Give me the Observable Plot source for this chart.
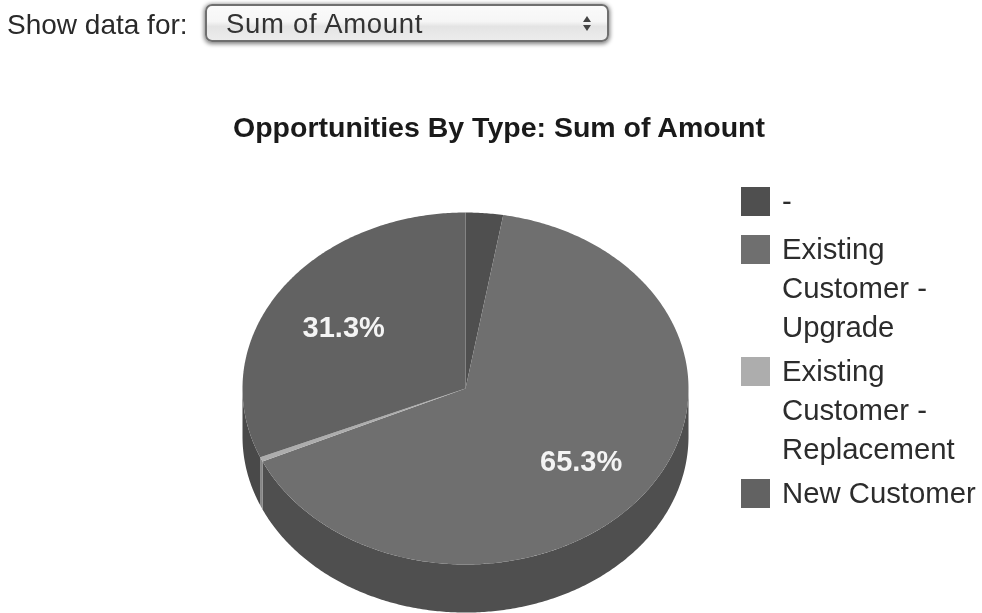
<!DOCTYPE html>
<html><head><meta charset="utf-8">
<script src="https://cdn.jsdelivr.net/npm/d3@7"></script>
<script src="https://cdn.jsdelivr.net/npm/@observablehq/plot@0.6"></script>
<style>
html,body{margin:0;background:#fff;overflow:hidden}
body{width:982px;height:613px;font-family:"Liberation Sans",Arial,sans-serif;color:#222;filter:blur(.7px)}
#head{position:relative;height:170px}
#lab{position:absolute;left:7px;top:9px;font-size:28px;line-height:32px;color:#2a2a2a;white-space:nowrap}
#sel{position:absolute;left:205px;top:4px;width:404px;height:38px;box-sizing:border-box;border:2px solid #6f6f6f;border-radius:7px;
 background:linear-gradient(#fafafa,#f6f6f6 45%,#e4e4e4 60%,#ececec);box-shadow:0 1px 4px 1px #808080;font-size:27.5px;line-height:35px;padding-left:19px;color:#333;letter-spacing:.7px}
#sel i{position:absolute;right:16px;width:0;height:0;border-left:4px solid transparent;border-right:4px solid transparent}
#sel i.u{top:10px;border-bottom:6px solid #444}
#sel i.d{top:19px;border-top:6px solid #444}
#ttl{position:absolute;left:0;width:998px;top:112px;text-align:center;font-weight:bold;font-size:28.5px;line-height:30px;color:#1a1a1a}
#main{position:relative;height:443px}
#main svg{display:block}
#leg{position:absolute;left:741px;top:11px;width:241px;font-size:29.3px;line-height:39px;color:#2c2c2c;white-space:nowrap}
#leg div.r{position:relative;padding-left:41px;margin-bottom:5px}
#leg div.r:first-child{margin-bottom:9px}
#leg span.s{position:absolute;left:0;top:6px;width:29px;height:29px}
</style></head><body>
<div id="head">
 <div id="lab">Show data for:</div>
 <div id="sel">Sum of Amount<i class="u"></i><i class="d"></i></div>
 <div id="ttl">Opportunities By Type: Sum of Amount</div>
</div>
<div id="main"></div>
<script>
const categories = ["-", "Existing Customer - Upgrade", "Existing Customer - Replacement", "New Customer"];
const legendLines = [["-"], ["Existing", "Customer -", "Upgrade"], ["Existing", "Customer -", "Replacement"], ["New Customer"]];
const shares = [2.7, 65.3, 0.4, 31.3];
const shareLabels = ["", "65.3%", "", "31.3%"];
const topColors = ["#4f4f4f", "#6f6f6f", "#adadad", "#626262"];
const sideColors = ["#3f3f3f", "#4f4f4f", "#858585", "#494949"];
const depth = 0.273;

// Turn the shares into arcs; angle 0 is the top, going clockwise.
const total = d3.sum(shares);
const arcs = [];
let acc = 0;
categories.forEach((cat, i) => {
  const a0 = acc / total * 2 * Math.PI;
  acc += shares[i];
  arcs.push({cat, a0, a1: acc / total * 2 * Math.PI, label: shareLabels[i]});
});
const sample = (a0, a1) => {
  const n = Math.max(2, Math.ceil((a1 - a0) / 0.01));
  return d3.range(n + 1).map(k => a0 + (a1 - a0) * k / n);
};
const tops = arcs.flatMap(d => [
  {cat: d.cat, x: 0, y: 0},
  ...sample(d.a0, d.a1).map(a => ({cat: d.cat, x: Math.sin(a), y: -Math.cos(a)}))
]);
const sides = arcs.flatMap(d => {
  const a0 = Math.max(d.a0, Math.PI / 2), a1 = Math.min(d.a1, 3 * Math.PI / 2);
  if (a1 <= a0) return [];
  const s = sample(a0, a1);
  return [
    ...s.map(a => ({cat: d.cat, x: Math.sin(a), y: -Math.cos(a)})),
    ...s.slice().reverse().map(a => ({cat: d.cat, x: Math.sin(a), y: -Math.cos(a) + depth}))
  ];
});
const labels = arcs.filter(d => d.label).map(d => {
  const m = (d.a0 + d.a1) / 2;
  return {label: d.label, x: 0.655 * Math.sin(m), y: -0.655 * Math.cos(m)};
});
const sideFill = new Map(categories.map((c, i) => [c, sideColors[i]]));

const chart = Plot.plot({
  width: 982, height: 443, margin: 0,
  x: {domain: [-1, 1], range: [242, 688], axis: null},
  y: {domain: [-1, 1], range: [42, 394], axis: null},
  color: {type: "ordinal", domain: categories, range: topColors},
  marks: [
    Plot.line(sides, {x: "x", y: "y", z: "cat", fill: d => sideFill.get(d.cat), stroke: null, curve: "linear"}),
    Plot.line(tops, {x: "x", y: "y", z: "cat", fill: "cat", stroke: null, curve: "linear"}),
    Plot.text(labels, {x: "x", y: "y", text: "label", fill: "#f4f4f4", fontSize: 29, fontWeight: "bold", dy: 3,
      fontFamily: "Liberation Sans, Arial, sans-serif", stroke: null})
  ]
});
const main = document.getElementById("main");
main.appendChild(chart);

const leg = document.createElement("div");
leg.id = "leg";
legendLines.forEach((lines, i) => {
  const r = document.createElement("div");
  r.className = "r";
  const s = document.createElement("span");
  s.className = "s";
  s.style.background = topColors[i];
  r.appendChild(s);
  lines.forEach(t => { const l = document.createElement("div"); l.textContent = t; r.appendChild(l); });
  leg.appendChild(r);
});
main.appendChild(leg);
</script>
</body></html>
